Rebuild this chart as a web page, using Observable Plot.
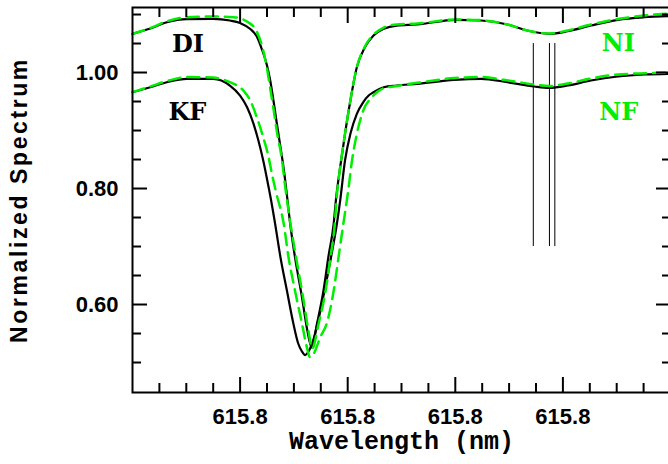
<!DOCTYPE html>
<html><head><meta charset="utf-8">
<script src="https://cdn.jsdelivr.net/npm/d3@7"></script>
<script src="https://cdn.jsdelivr.net/npm/@observablehq/plot@0.6"></script>
<style>html,body{margin:0;padding:0;background:#fff;overflow:hidden} svg{display:block}</style>
</head><body><div id="chart"></div>
<script>
// DI (black, upper)
const diWl = [615.7400, 615.7433, 615.7464, 615.7501, 615.7550, 615.7581, 615.7600, 615.7619, 615.7631, 615.7640, 615.7650, 615.7656, 615.7662, 615.7668, 615.7674, 615.7681, 615.7686, 615.7693, 615.7702, 615.7715, 615.7725, 615.7733, 615.7743, 615.7755, 615.7764, 615.7774, 615.7778, 615.7786, 615.7795, 615.7805, 615.7817, 615.7832, 615.7848, 615.7867, 615.7891, 615.7929, 615.8001, 615.8048, 615.8097, 615.8134, 615.8175, 615.8209, 615.8252, 615.8302, 615.8351, 615.8396];
const diVal = [1.0667, 1.0759, 1.0867, 1.0922, 1.0926, 1.0897, 1.0853, 1.0750, 1.0621, 1.0414, 1.0121, 0.9862, 0.9517, 0.9138, 0.8776, 0.8345, 0.7966, 0.7397, 0.6816, 0.6126, 0.5552, 0.5259, 0.5672, 0.6241, 0.6816, 0.7397, 0.7793, 0.8367, 0.8943, 0.9517, 1.0091, 1.0436, 1.0638, 1.0753, 1.0810, 1.0828, 1.0909, 1.0897, 1.0828, 1.0724, 1.0667, 1.0712, 1.0810, 1.0909, 1.0953, 1.0971];
// NI (green dashed, upper)
const niWl = [615.7400, 615.7433, 615.7464, 615.7501, 615.7550, 615.7588, 615.7606, 615.7615, 615.7631, 615.7643, 615.7650, 615.7656, 615.7662, 615.7668, 615.7678, 615.7684, 615.7693, 615.7704, 615.7717, 615.7727, 615.7734, 615.7746, 615.7759, 615.7768, 615.7776, 615.7779, 615.7786, 615.7795, 615.7805, 615.7817, 615.7832, 615.7848, 615.7867, 615.7891, 615.7929, 615.8001, 615.8048, 615.8097, 615.8134, 615.8175, 615.8209, 615.8252, 615.8302, 615.8351, 615.8396];
const niVal = [1.0667, 1.0767, 1.0884, 1.0953, 1.0966, 1.0953, 1.0914, 1.0867, 1.0707, 1.0379, 1.0069, 0.9724, 0.9379, 0.9000, 0.8483, 0.8022, 0.7431, 0.6816, 0.6126, 0.5552, 0.5241, 0.5672, 0.6241, 0.6816, 0.7397, 0.7793, 0.8367, 0.8943, 0.9517, 1.0091, 1.0448, 1.0655, 1.0776, 1.0828, 1.0845, 1.0914, 1.0902, 1.0828, 1.0724, 1.0672, 1.0724, 1.0828, 1.0922, 1.0983, 1.1017];
// KF (black, lower)
const kfWl = [615.7400, 615.7433, 615.7464, 615.7501, 615.7550, 615.7581, 615.7600, 615.7613, 615.7625, 615.7634, 615.7643, 615.7653, 615.7657, 615.7665, 615.7675, 615.7687, 615.7699, 615.7708, 615.7715, 615.7721, 615.7726, 615.7734, 615.7744, 615.7757, 615.7769, 615.7780, 615.7786, 615.7795, 615.7805, 615.7817, 615.7829, 615.7839, 615.7848, 615.7867, 615.7891, 615.7929, 615.7998, 615.8048, 615.8097, 615.8147, 615.8175, 615.8209, 615.8252, 615.8302, 615.8351, 615.8396];
const kfVal = [0.9660, 0.9747, 0.9833, 0.9891, 0.9891, 0.9776, 0.9603, 0.9402, 0.9116, 0.8828, 0.8483, 0.8022, 0.7828, 0.7397, 0.6816, 0.6241, 0.5672, 0.5328, 0.5190, 0.5129, 0.5172, 0.5328, 0.5672, 0.6241, 0.6816, 0.7397, 0.7793, 0.8483, 0.8943, 0.9288, 0.9491, 0.9603, 0.9660, 0.9747, 0.9776, 0.9805, 0.9874, 0.9891, 0.9833, 0.9759, 0.9736, 0.9776, 0.9862, 0.9931, 0.9966, 0.9978];
// NF (green dashed, lower)
const nfWl = [615.7400, 615.7433, 615.7464, 615.7501, 615.7550, 615.7581, 615.7606, 615.7619, 615.7631, 615.7643, 615.7653, 615.7659, 615.7667, 615.7681, 615.7690, 615.7702, 615.7715, 615.7724, 615.7730, 615.7738, 615.7749, 615.7761, 615.7774, 615.7783, 615.7792, 615.7801, 615.7808, 615.7817, 615.7829, 615.7845, 615.7864, 615.7885, 615.7929, 615.7998, 615.8048, 615.8090, 615.8147, 615.8175, 615.8209, 615.8252, 615.8302, 615.8356, 615.8396];
const nfVal = [0.9660, 0.9759, 0.9853, 0.9922, 0.9914, 0.9833, 0.9690, 0.9517, 0.9229, 0.8884, 0.8540, 0.8259, 0.7931, 0.7397, 0.6816, 0.6241, 0.5672, 0.5264, 0.5091, 0.5172, 0.5436, 0.5672, 0.6241, 0.6816, 0.7397, 0.7966, 0.8483, 0.8943, 0.9345, 0.9574, 0.9719, 0.9759, 0.9822, 0.9905, 0.9922, 0.9874, 0.9793, 0.9767, 0.9810, 0.9897, 0.9966, 0.9988, 1.0000];

// vertical marker lines
const markerWl = [615.8145, 615.8175, 615.8185];
const markerRange = [0.70, 1.05];

// ticks
const majorX = [615.76, 615.78, 615.80, 615.82];
const minorX = [615.745, 615.750, 615.755, 615.765, 615.770, 615.775, 615.785, 615.790, 615.795, 615.805, 615.810, 615.815, 615.825, 615.830, 615.835];
const majorY = [0.60, 0.80, 1.00];
const minorY = [0.50, 0.55, 0.65, 0.70, 0.75, 0.85, 0.90, 0.95, 1.05, 1.10];

// curve labels
const labelText = ["DI", "KF", "NI", "NF"];
const labelWl = [615.7503, 615.7502, 615.8303, 615.8304];
const labelVal = [1.048, 0.932, 1.050, 0.932];
const labelColor = ["black", "black", "#00ee00", "#00ee00"];

const xTitle = "Wavelength (nm)";
const yTitle = "Normalized Spectrum";

const GREEN = "#00ee00";
const lineMark = (w, v, opts) => Plot.line(v, {x: w, y: v, curve: "monotone-x", ...opts});
const labels = labelText.map((t, i) => ({t, w: labelWl[i], v: labelVal[i], c: labelColor[i]}));

const tickAxes = [];
for (const anchor of ["bottom", "top"]) {
  tickAxes.push(Plot.axisX(majorX, {anchor, tickSize: -15, fill: "none", strokeWidth: 2, stroke: "black"}));
  tickAxes.push(Plot.axisX(minorX, {anchor, tickSize: -9, fill: "none", strokeWidth: 2, stroke: "black"}));
}
for (const anchor of ["left", "right"]) {
  tickAxes.push(Plot.axisY(majorY, {anchor, tickSize: -15, fill: "none", strokeWidth: 2, stroke: "black"}));
  tickAxes.push(Plot.axisY(minorY, {anchor, tickSize: -9, fill: "none", strokeWidth: 2, stroke: "black"}));
}

const plot = Plot.plot({
  width: 668, height: 464,
  marginLeft: 132, marginRight: -2, marginTop: 7, marginBottom: 72,
  x: {domain: [615.74, 615.84], axis: null},
  y: {domain: [0.4483, 1.1121], axis: null},
  style: {fontFamily: "Liberation Sans", background: "white", color: "black", overflow: "hidden"},
  marks: [
    Plot.ruleX(markerWl, {y1: markerRange[0], y2: markerRange[1], stroke: "black", strokeWidth: 1}),
    lineMark(diWl, diVal, {stroke: "black", strokeWidth: 2.2}),
    lineMark(kfWl, kfVal, {stroke: "black", strokeWidth: 2.2}),
    lineMark(niWl, niVal, {stroke: GREEN, strokeWidth: 2.5, strokeDasharray: "12,7"}),
    lineMark(nfWl, nfVal, {stroke: GREEN, strokeWidth: 2.5, strokeDasharray: "12,7"}),
    Plot.text(labels, {x: "w", y: "v", text: "t", fill: "c", fontFamily: "DejaVu Serif", fontWeight: "bold", fontSize: 24}),
    ...tickAxes,
    Plot.axisX(majorX, {anchor: "bottom", tickSize: 0, tickPadding: 16, tickFormat: d3.format(".1f"), fontSize: 22, fontWeight: "bold", fill: "black", label: null}),
    Plot.axisY(majorY, {anchor: "left", tickSize: 0, tickPadding: 14, tickFormat: d3.format(".2f"), fontSize: 22, fontWeight: "bold", fill: "black", label: null}),
    Plot.frame({stroke: "black", strokeWidth: 2}),
    Plot.text([xTitle], {frameAnchor: "bottom", dy: 56.5, fontFamily: "Liberation Mono", fontWeight: "bold", fontSize: 25, fill: "black"}),
    Plot.text([yTitle], {frameAnchor: "left", textAnchor: "middle", rotate: -90, dx: -112.7, fontFamily: "Liberation Sans", fontWeight: "bold", fontSize: 23, fill: "black"})
  ]
});
document.getElementById("chart").appendChild(plot);
// letter spacing for the rotated axis title
for (const t of plot.querySelectorAll("text")) {
  if (t.textContent === yTitle) t.setAttribute("letter-spacing", "2.6");
}
</script>
</body></html>
